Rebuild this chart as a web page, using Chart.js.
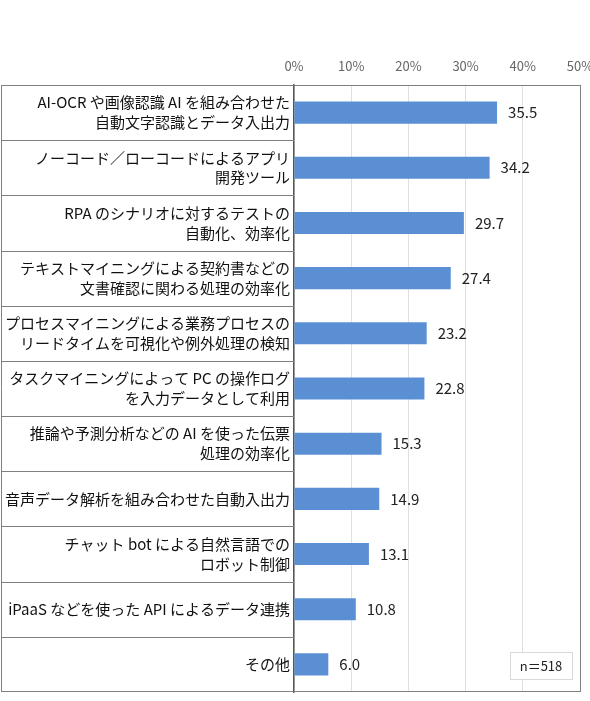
<!DOCTYPE html>
<html>
<head>
<meta charset="utf-8">
<script src="https://cdn.jsdelivr.net/npm/chart.js@4"></script>
<style>
  html, body { margin: 0; padding: 0; background: #fff; overflow: hidden; }
  canvas { display: block; }
</style>
</head>
<body>
<canvas id="rpaChart" width="590" height="701"></canvas>
<script>
const itemLabels = [
    ["AI-OCR や画像認識 AI を組み合わせた", "自動文字認識とデータ入出力"],
    ["ノーコード／ローコードによるアプリ", "開発ツール"],
    ["RPA のシナリオに対するテストの", "自動化、効率化"],
    ["テキストマイニングによる契約書などの", "文書確認に関わる処理の効率化"],
    ["プロセスマイニングによる業務プロセスの", "リードタイムを可視化や例外処理の検知"],
    ["タスクマイニングによって PC の操作ログ", "を入力データとして利用"],
    ["推論や予測分析などの AI を使った伝票", "処理の効率化"],
    "音声データ解析を組み合わせた自動入出力",
    ["チャット bot による自然言語での", "ロボット制御"],
    "iPaaS などを使った API によるデータ連携",
    "その他"
];
const itemValues = [35.5, 34.2, 29.7, 27.4, 23.2, 22.8, 15.3, 14.9, 13.1, 10.8, 6.0];
const axisMax = 50;
const axisStep = 10;
const sampleNote = "n＝518";

const jpFont = '"Noto Sans CJK JP", "Noto Sans", sans-serif';

// row borders, outer frame, value labels and the n= box
const tablePlugin = {
    id: 'tableFrame',
    afterDraw(chart) {
        const ctx = chart.ctx;
        const area = chart.chartArea;
        const yScale = chart.scales.y;
        const left = 1;

        ctx.save();
        ctx.strokeStyle = '#808080';
        ctx.lineWidth = 1;
        ctx.beginPath();
        // top + bottom + left
        ctx.moveTo(left, area.top + 0.5);
        ctx.lineTo(area.left, area.top + 0.5);
        ctx.moveTo(left, area.bottom - 0.5);
        ctx.lineTo(area.right, area.bottom - 0.5);
        ctx.moveTo(left + 0.5, area.top);
        ctx.lineTo(left + 0.5, area.bottom);
        // separators between rows, only in the label column
        for (let i = 1; i < itemLabels.length; i++) {
            const yy = Math.round((yScale.getPixelForValue(i - 1) + yScale.getPixelForValue(i)) / 2) + 0.5;
            ctx.moveTo(left, yy);
            ctx.lineTo(area.left, yy);
        }
        ctx.stroke();

        // value labels
        ctx.fillStyle = '#222';
        ctx.font = '15px ' + jpFont;
        ctx.textAlign = 'left';
        ctx.textBaseline = 'middle';
        const meta = chart.getDatasetMeta(0);
        meta.data.forEach((bar, i) => {
            ctx.fillText(itemValues[i].toFixed(1), bar.x + 11, bar.y);
        });

        // n= box
        const boxW = 62, boxH = 27;
        const bx = area.right - boxW - 8;
        const by = area.bottom - boxH - 13;
        ctx.fillStyle = '#fff';
        ctx.fillRect(bx, by, boxW, boxH);
        ctx.strokeStyle = '#d9d9d9';
        ctx.strokeRect(bx + 0.5, by + 0.5, boxW, boxH);
        ctx.fillStyle = '#222';
        ctx.font = '13px ' + jpFont;
        ctx.textAlign = 'center';
        ctx.fillText(sampleNote, bx + boxW / 2, by + boxH / 2 + 1);
        ctx.restore();
    }
};

document.addEventListener('DOMContentLoaded', function() {
    const ctx = document.getElementById('rpaChart').getContext('2d');

    new Chart(ctx, {
        type: 'bar',
        data: {
            labels: itemLabels,
            datasets: [{
                data: itemValues,
                backgroundColor: '#5b8fd4',
                borderWidth: 0,
                barPercentage: 0.4,
                categoryPercentage: 1.0
            }]
        },
        options: {
            indexAxis: 'y',
            responsive: false,
            devicePixelRatio: 1,
            animation: false,
            layout: {
                padding: { left: 1, right: 10, top: 0, bottom: 9 }
            },
            plugins: {
                legend: { display: false },
                tooltip: { enabled: false }
            },
            scales: {
                x: {
                    position: 'top',
                    min: 0,
                    max: axisMax,
                    ticks: {
                        stepSize: axisStep,
                        padding: 11,
                        color: '#666',
                        font: { size: 13, family: jpFont },
                        callback: v => v + '%'
                    },
                    grid: {
                        drawTicks: false,
                        color: c => c.index === 5 ? '#808080' : '#e0e0e0',
                        lineWidth: 1
                    },
                    border: { display: true, color: '#808080' },
                    afterFit(scale) {
                        scale.height = 85;
                        scale.paddingLeft = 0;
                        scale.paddingRight = 0;
                    }
                },
                y: {
                    ticks: {
                        padding: 4,
                        color: '#111',
                        font: { size: 15, family: jpFont, lineHeight: 1.33 }
                    },
                    grid: { display: false, drawTicks: false },
                    border: { display: true, color: '#555', width: 1.5 },
                    afterFit(scale) {
                        scale.width = 293;
                        scale.paddingTop = 0;
                        scale.paddingBottom = 0;
                    }
                }
            }
        },
        plugins: [tablePlugin]
    });
});
</script>
</body>
</html>
